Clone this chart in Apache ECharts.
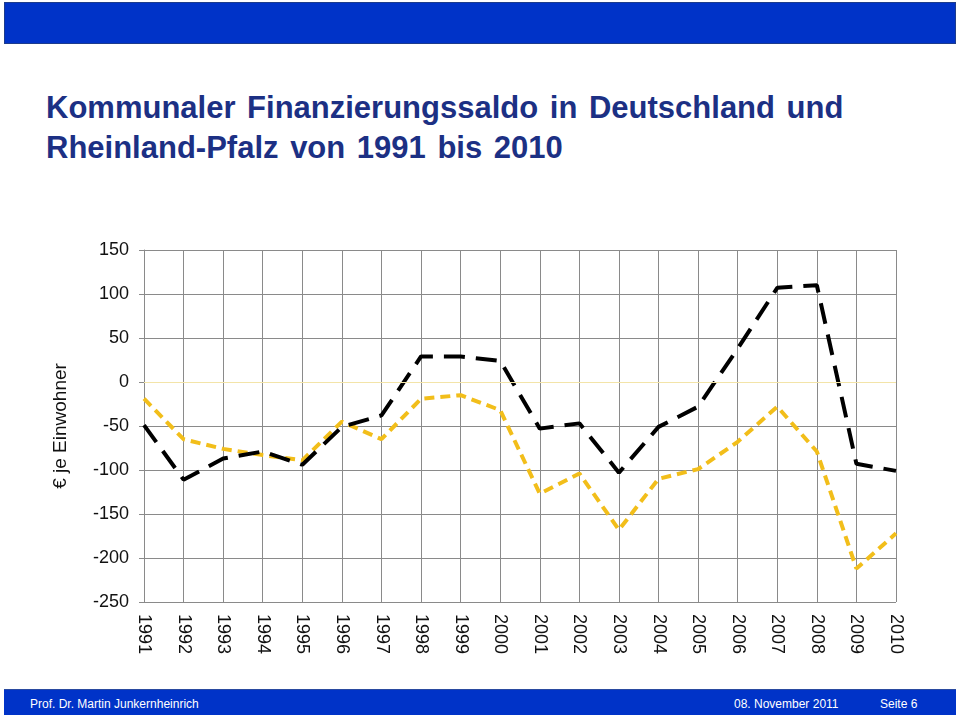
<!DOCTYPE html>
<html>
<head>
<meta charset="utf-8">
<script src="https://cdn.jsdelivr.net/npm/echarts@6/dist/echarts.min.js"></script>
<style>
html,body{margin:0;padding:0;background:#fff;}
#wrap{position:relative;width:960px;height:716px;overflow:hidden;font-family:"Liberation Sans",Arial,sans-serif;}
#hdr{position:absolute;left:4px;top:2px;width:950px;height:40px;background:#0033c8;border:1px solid #1d3c8c;}
#title{position:absolute;left:46px;top:88px;font-size:31px;font-weight:bold;line-height:40px;color:#1c3084;word-spacing:3px;}
#ftr{position:absolute;left:4px;top:689px;width:952px;height:25px;background:#0033c8;border-top:1px solid #2a4aa0;color:#fff;font-size:12px;}
#ftr span{position:absolute;top:7px;}
#chart{position:absolute;left:0;top:0;width:960px;height:716px;}
</style>
</head>
<body>
<div id="wrap">
<div id="hdr"></div>
<div id="title">Kommunaler Finanzierungssaldo in Deutschland und<br>Rheinland-Pfalz von 1991 bis 2010</div>
<div id="chart"></div>
<div id="ftr"><span style="left:26px">Prof. Dr. Martin Junkernheinrich</span><span style="left:730px">08. November 2011</span><span style="left:876px">Seite 6</span></div>
</div>
<script>
var years = ['1991','1992','1993','1994','1995','1996','1997','1998','1999','2000','2001','2002','2003','2004','2005','2006','2007','2008','2009','2010'];
var deutschland = [-49,-111,-87,-79,-94,-51,-38,29,29,24,-53,-47,-103,-51,-28,38,107,110,-93,-101];
var rheinlandPfalz = [-19,-65,-76,-83,-89,-45,-65,-19,-15,-32,-127,-104,-168,-110,-99,-68,-28,-79,-212,-172];
var yMin = -250, yMax = 150, yStep = 50;

var chart = echarts.init(document.getElementById('chart'), null, {renderer:'canvas'});
chart.setOption({
  animation:false,
  grid:{left:144, right:64, top:250, bottom:114, containLabel:false},
  xAxis:{
    type:'category', data:years, boundaryGap:false,
    axisLine:{show:true, lineStyle:{color:'#8a8a8a', width:1}},
    axisTick:{show:true, length:5, alignWithLabel:true, lineStyle:{color:'#8a8a8a'}},
    axisLabel:{rotate:-90, margin:12, fontSize:18, color:'#111', fontFamily:'Liberation Sans, Arial, sans-serif', interval:0},
    splitLine:{show:true, lineStyle:{color:'#8a8a8a', width:1}}
  },
  yAxis:{
    type:'value', min:yMin, max:yMax, interval:yStep,
    name:'€ je Einwohner', nameLocation:'middle', nameGap:74, nameRotate:90,
    nameTextStyle:{fontSize:19, color:'#111', fontFamily:'Liberation Sans, Arial, sans-serif'},
    axisLine:{show:true, lineStyle:{color:'#8a8a8a', width:1}},
    axisTick:{show:true, length:5, lineStyle:{color:'#8a8a8a'}},
    axisLabel:{fontSize:18, color:'#111', margin:15, fontFamily:'Liberation Sans, Arial, sans-serif'},
    splitLine:{show:true, lineStyle:{color:'#8a8a8a', width:1}}
  },
  series:[
    {
      name:'Deutschland', type:'line', data:deutschland, showSymbol:false, symbol:'none',
      lineStyle:{color:'#000', width:4, type:[21,11], cap:'butt'},
      markLine:{silent:true, symbol:'none', label:{show:false},
        lineStyle:{color:'#f3e4a8', width:1, type:'solid'}, data:[{yAxis:0}]},
      z:3
    },
    {
      name:'Rheinland-Pfalz', type:'line', data:rheinlandPfalz, showSymbol:false, symbol:'none',
      lineStyle:{color:'#f2be1a', width:4, type:[10,6], cap:'butt'},
      z:2
    }
  ]
});
</script>
</body>
</html>
